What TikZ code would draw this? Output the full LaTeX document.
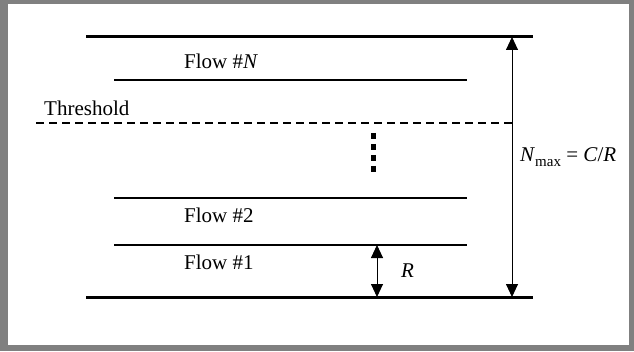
\documentclass[tikz,border=0pt]{standalone}
\usepackage{fontspec}
\setmainfont{Liberation Serif}
\usetikzlibrary{arrows.meta}

\begin{document}
\begin{tikzpicture}[x=1pt, y=1pt,
                    thick line/.style={line width=3pt},
                    flow line/.style={line width=1.3pt},
                    dim arrow/.style={line width=0.9pt, {Triangle[length=13pt,width=12pt]}-{Triangle[length=13pt,width=12pt]}},
                    label node/.style={font=\fontsize{21}{23}\selectfont, inner sep=0pt}]

  % frame
  \fill[gray] (0,0) rectangle (634,351);
  \fill[white] (8,6) rectangle (629,347);
  \useasboundingbox (0,0) rectangle (634,351);

  \coordinate (topL) at (86,314);
  \coordinate (topR) at (533,314);
  \coordinate (botL) at (86,54);
  \coordinate (botR) at (533,54);
  \coordinate (nL) at (114,271);
  \coordinate (nR) at (467,271);
  \coordinate (twoL) at (114,153);
  \coordinate (twoR) at (467,153);
  \coordinate (oneL) at (114,106);
  \coordinate (oneR) at (467,106);
  \coordinate (thrL) at (36,228);
  \coordinate (thrR) at (512,228);
  \coordinate (dotsT) at (373,218);
  \coordinate (dotsB) at (373,176);
  \coordinate (rT) at (377,106);
  \coordinate (rB) at (377,54);
  \coordinate (mT) at (512,314);
  \coordinate (mB) at (512,54);

  \draw[thick line] (topL) -- (topR);
  \draw[thick line] (botL) -- (botR);
  \draw[flow line] (nL) -- (nR);
  \draw[flow line] (twoL) -- (twoR);
  \draw[flow line] (oneL) -- (oneR);
  \draw[line width=2.6pt, dash pattern=on 8pt off 5pt] (thrL) -- (thrR);
  \draw[line width=5pt, dash pattern=on 6pt off 5pt] (dotsT) -- (dotsB);

  \draw[dim arrow] (rT) -- (rB);
  \draw[dim arrow] (mT) -- (mB);

  \node[label node, anchor=west] (flowN) at (184,290) {Flow \#\textit{N}};
  \node[label node, anchor=west] (flow2) at (184,136) {Flow \#2};
  \node[label node, anchor=west] (flow1) at (184,89) {Flow \#1};
  \node[label node, anchor=west] (thr) at (44,243) {Threshold};
  \node[label node, anchor=west] (rate) at (401,80) {\textit{R}};
  \node[label node, anchor=west] (nmax) at (520,194)
    {\textit{N}\raisebox{-0.45ex}{\fontsize{15}{16}\selectfont max} = \textit{C}/\textit{R}};

\end{tikzpicture}
\end{document}
